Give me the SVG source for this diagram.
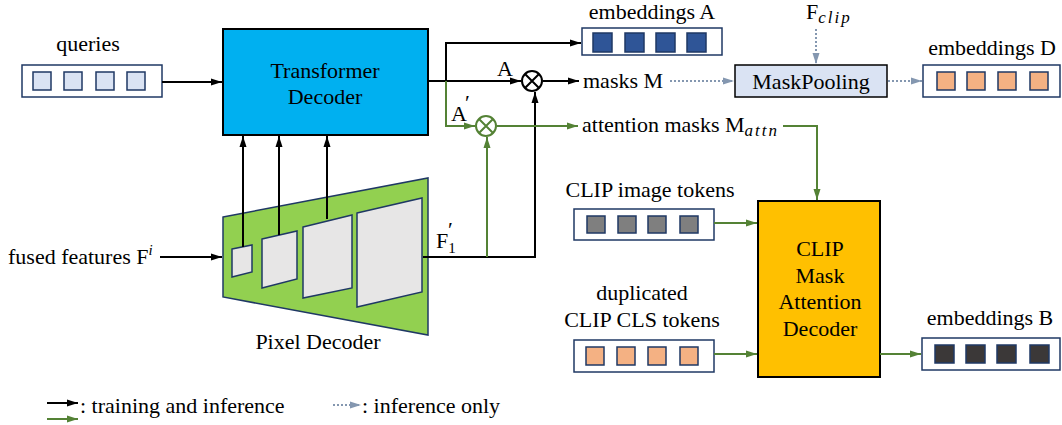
<svg xmlns="http://www.w3.org/2000/svg" width="1062" height="425" viewBox="0 0 1062 425">
<defs>
<marker id="ab" markerUnits="userSpaceOnUse" markerWidth="12" markerHeight="10" refX="11" refY="5" orient="auto"><path d="M0,1.5 L11,5 L0,8.5 Z" fill="#000"/></marker>
<marker id="ag" markerUnits="userSpaceOnUse" markerWidth="12" markerHeight="10" refX="11" refY="5" orient="auto"><path d="M0,1.5 L11,5 L0,8.5 Z" fill="#548235"/></marker>
<marker id="ad" markerUnits="userSpaceOnUse" markerWidth="12" markerHeight="10" refX="11" refY="5" orient="auto"><path d="M0,1.5 L11,5 L0,8.5 Z" fill="#8497B0"/></marker>
</defs>
<style>
text{font-family:'Liberation Serif','Times New Roman',serif;font-size:22px;fill:#000}
.c{text-anchor:middle}
.tb{fill:#fff;stroke:#1F3864;stroke-width:1.5}
.sq{stroke:#1F3864;stroke-width:1.5}
.k{fill:none;stroke:#000;stroke-width:2;marker-end:url(#ab)}
.g{fill:none;stroke:#548235;stroke-width:2;marker-end:url(#ag)}
.d{fill:none;stroke:#8497B0;stroke-width:2;stroke-dasharray:2 2;marker-end:url(#ad)}
.pl{fill:#E7E6E6;stroke:#1F3864;stroke-width:1.5}
.sub{font-style:italic;font-size:17px;letter-spacing:2px}
</style>
<rect width="1062" height="425" fill="#fff"/>

<g id="queries">
<text x="88" y="51" class="c">queries</text>
<rect class="tb" x="22" y="65" width="140" height="32"/>
<g fill="#DAE3F3" class="sq"><rect x="33" y="72" width="18" height="18"/><rect x="64" y="72" width="18" height="18"/><rect x="96" y="72" width="18" height="18"/><rect x="127" y="72" width="18" height="18"/></g>
</g>

<g id="transformer-decoder">
<rect x="223" y="29" width="205" height="106" fill="#00B0F0" stroke="#000" stroke-width="2"/>
<text x="325" y="78" class="c">Transformer</text>
<text x="325" y="104" class="c">Decoder</text>
</g>

<g id="pixel-decoder">
<polygon points="223,217 428,178 428,335 223,297" fill="#92D050" stroke="#1F3864" stroke-width="1.5"/>
<polygon class="pl" points="232,249 252,245 252,272 232,277"/>
<polygon class="pl" points="262,239 297,231 297,279 262,288"/>
<polygon class="pl" points="303,227 352,215 352,288 303,298"/>
<polygon class="pl" points="357,213 422,198 422,292 357,307"/>
<text x="318" y="349" class="c">Pixel Decoder</text>
</g>

<g id="fused-features">
<text x="8" y="264">fused features F<tspan font-style="italic" font-size="15" dy="-9">i</tspan></text>
</g>

<g id="embeddings-a">
<text x="652" y="19" class="c">embeddings A</text>
<rect class="tb" x="582" y="28" width="140" height="27"/>
<g fill="#2F5597" class="sq"><rect x="593" y="33" width="19" height="19"/><rect x="625" y="33" width="19" height="19"/><rect x="656" y="33" width="19" height="19"/><rect x="687" y="33" width="19" height="19"/></g>
</g>

<g id="mult-a">
<circle cx="532" cy="81" r="10" fill="#fff" stroke="#000" stroke-width="2"/>
<path d="M525,74 L539,88 M539,74 L525,88" stroke="#000" stroke-width="2"/>
</g>

<g id="mult-a-prime">
<circle cx="486" cy="126" r="10" fill="#fff" stroke="#548235" stroke-width="2"/>
<path d="M479,119 L493,133 M493,119 L479,133" stroke="#548235" stroke-width="2"/>
</g>

<g id="labels">
<text x="497" y="76">A</text>
<text x="451" y="121">A</text><text x="465" y="110" font-size="16">′</text>
<text x="436" y="248">F<tspan font-size="15" dy="5">1</tspan></text><text x="448" y="237" font-size="16">′</text>
<text x="583" y="88">masks M</text>
<text x="582" y="132" font-size="20.5">attention masks M<tspan class="sub" dy="4">attn</tspan></text>
</g>

<g id="maskpooling">
<text x="806" y="19">F<tspan class="sub" font-size="16" dy="4">clip</tspan></text>
<rect x="735" y="65" width="152" height="32" fill="#DAE3F3" stroke="#000" stroke-width="1.5"/>
<text x="811" y="89" class="c">MaskPooling</text>
</g>

<g id="embeddings-d">
<text x="992" y="55" class="c">embeddings D</text>
<rect class="tb" x="923" y="65" width="137" height="32"/>
<g fill="#F4B183" class="sq"><rect x="937" y="72" width="18" height="18"/><rect x="967" y="72" width="18" height="18"/><rect x="998" y="72" width="18" height="18"/><rect x="1030" y="72" width="18" height="18"/></g>
</g>

<g id="clip-image-tokens">
<text x="650" y="197" class="c">CLIP image tokens</text>
<rect class="tb" x="574" y="209" width="140" height="31"/>
<g fill="#7F7F7F" class="sq"><rect x="587" y="216" width="18" height="17"/><rect x="618" y="216" width="18" height="17"/><rect x="648" y="216" width="18" height="17"/><rect x="680" y="216" width="18" height="17"/></g>
</g>

<g id="clip-cls-tokens">
<text x="642" y="300" class="c">duplicated</text>
<text x="642" y="327" class="c">CLIP CLS tokens</text>
<rect class="tb" x="574" y="340" width="140" height="32"/>
<g fill="#F4B183" class="sq"><rect x="586" y="347" width="18" height="18"/><rect x="617" y="347" width="18" height="18"/><rect x="648" y="347" width="18" height="18"/><rect x="680" y="347" width="18" height="18"/></g>
</g>

<g id="clip-mask-attention-decoder">
<rect x="758" y="201" width="122" height="176" fill="#FFC000" stroke="#000" stroke-width="2"/>
<text x="820" y="256" class="c">CLIP</text>
<text x="820" y="283" class="c">Mask</text>
<text x="820" y="309" class="c">Attention</text>
<text x="820" y="336" class="c">Decoder</text>
</g>

<g id="embeddings-b">
<text x="990" y="325" class="c">embeddings B</text>
<rect class="tb" x="922" y="338" width="138" height="32"/>
<g fill="#3B3838" class="sq"><rect x="935" y="345" width="19" height="18"/><rect x="966" y="345" width="19" height="18"/><rect x="997" y="345" width="19" height="18"/><rect x="1030" y="345" width="19" height="18"/></g>
</g>

<g id="connectors">
<path class="k" d="M162,82 H222"/>
<path class="k" d="M160,257 H222"/>
<path class="k" d="M243,247 V136"/>
<path class="k" d="M279,235 V136"/>
<path class="k" d="M327,219 V136"/>
<path class="k" d="M428,81 H521"/>
<path class="k" d="M446,81 V43 H581"/>
<path class="k" d="M543,81 H579"/>
<path class="k" d="M423,257 H535 V92"/>
<path class="g" d="M446,81 V126 H475"/>
<path class="g" d="M487,257 V137"/>
<path class="g" d="M497,126 H578"/>
<path class="g" d="M783,126 H817 V200"/>
<path class="g" d="M714,223 H757"/>
<path class="g" d="M714,354 H757"/>
<path class="g" d="M880,354 H921"/>
<path class="d" d="M670,81 H734"/>
<path class="d" d="M816,29 V64"/>
<path class="d" d="M888,81 H922"/>
</g>

<g id="legend">
<path class="k" d="M47,403 H78"/>
<path class="g" d="M47,419 H78"/>
<text x="80" y="413">: training and inference</text>
<path class="d" d="M333,405 H361"/>
<text x="362" y="413">: inference only</text>
</g>
</svg>
